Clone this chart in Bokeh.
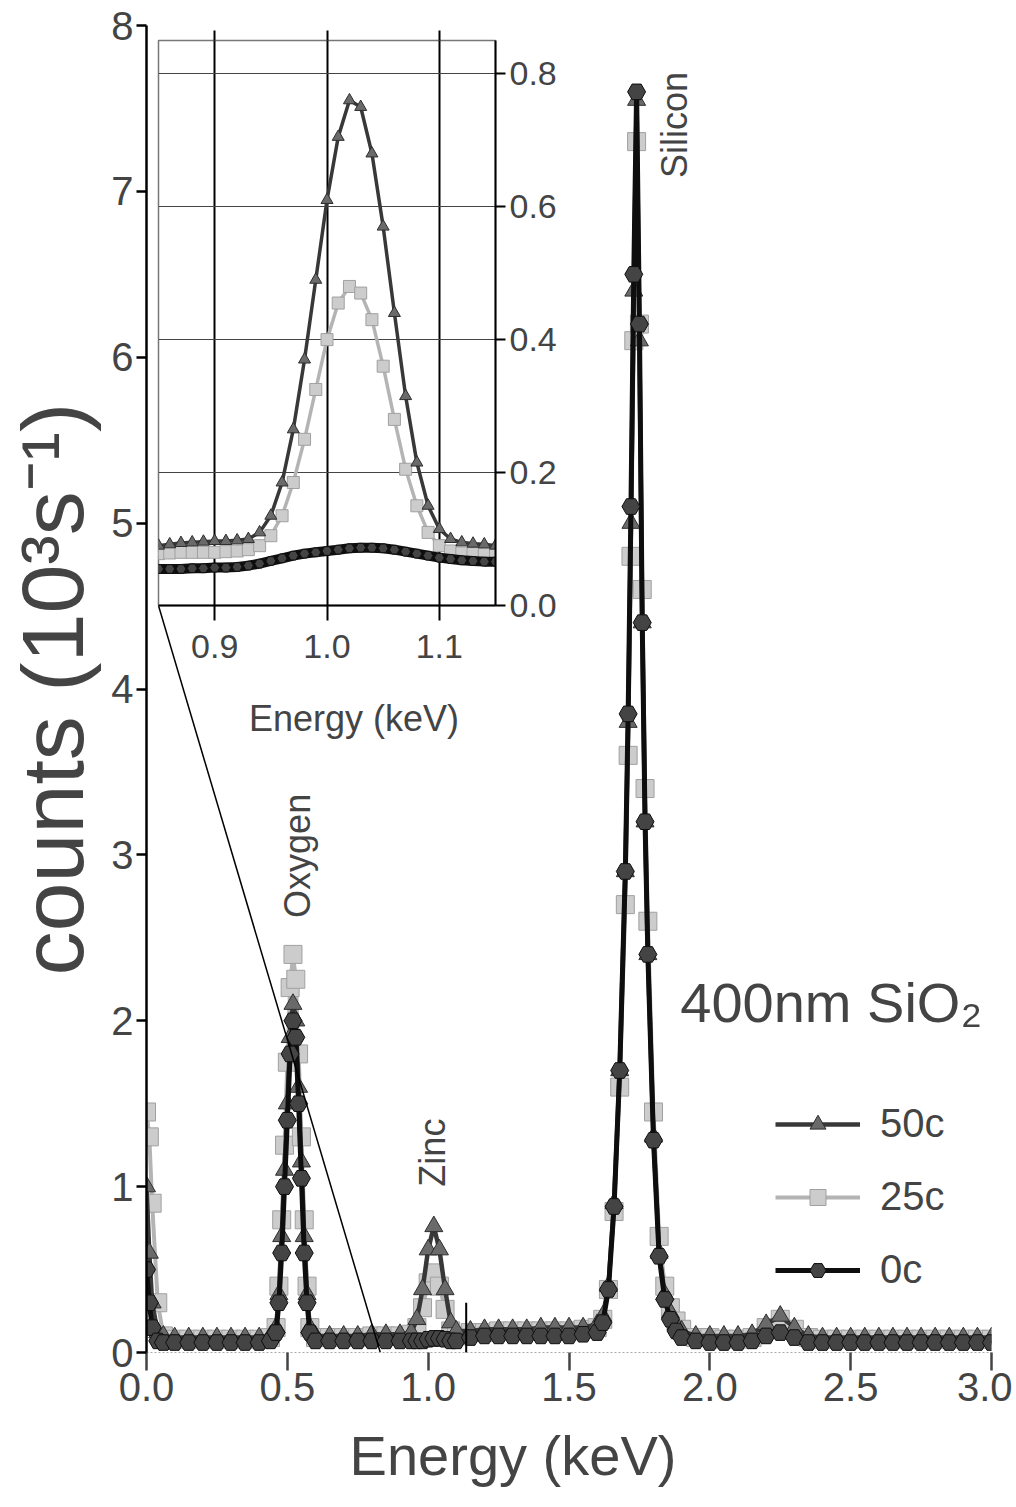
from bokeh.plotting import figure
from bokeh.models import Range1d, FixedTicker, Legend, LegendItem, Label, NumeralTickFormatter, LinearAxis
from bokeh.embed import file_html
from bokeh.resources import INLINE

# ---------------- data ----------------
energy = [0.00, 0.01, 0.02, 0.04, 0.06, 0.10, 0.15, 0.20, 0.25, 0.30, 0.35, 0.40, 0.44,
          0.46, 0.47, 0.48, 0.49, 0.50, 0.51, 0.52, 0.53, 0.54, 0.55, 0.56, 0.57, 0.58, 0.60,
          0.65, 0.70, 0.75, 0.80, 0.85, 0.90, 0.94,
          0.96, 0.98, 1.00, 1.02, 1.04, 1.06, 1.08, 1.10,
          1.15, 1.20, 1.25, 1.30, 1.35, 1.40, 1.45, 1.50, 1.55, 1.60,
          1.62, 1.64, 1.66, 1.68, 1.70, 1.71, 1.72, 1.73, 1.74, 1.75, 1.76, 1.77, 1.78, 1.80,
          1.82, 1.84, 1.86, 1.88, 1.90,
          1.95, 2.00, 2.05, 2.10, 2.15, 2.20, 2.25, 2.30, 2.35, 2.40, 2.45, 2.50, 2.55, 2.60,
          2.65, 2.70, 2.75, 2.80, 2.85, 2.90, 2.95, 3.00]

counts_50c = [1.00, 0.60, 0.30, 0.12, 0.10, 0.09, 0.09, 0.09, 0.09, 0.09, 0.09, 0.09, 0.10,
              0.15, 0.35, 0.70, 1.10, 1.50, 1.90, 2.10, 2.00, 1.60, 1.15, 0.70, 0.35, 0.15, 0.10,
              0.10, 0.10, 0.10, 0.11, 0.11, 0.11, 0.12,
              0.20, 0.38, 0.62, 0.76, 0.62, 0.38, 0.18, 0.13,
              0.13, 0.14, 0.14, 0.14, 0.14, 0.15, 0.15, 0.15, 0.15, 0.17,
              0.22, 0.40, 0.90, 1.70, 2.90, 3.80, 5.00, 6.40, 7.55, 6.10, 4.40, 3.20, 2.40, 1.30,
              0.60, 0.35, 0.24, 0.17, 0.13,
              0.10, 0.10, 0.10, 0.10, 0.11, 0.17, 0.22, 0.15, 0.10, 0.09, 0.09, 0.09, 0.09, 0.09,
              0.09, 0.09, 0.09, 0.09, 0.09, 0.09, 0.09, 0.09]

counts_25c = [1.45, 1.30, 0.90, 0.30, 0.10, 0.08, 0.08, 0.08, 0.08, 0.08, 0.08, 0.08, 0.09,
              0.15, 0.40, 0.80, 1.25, 1.75, 2.20, 2.40, 2.25, 1.80, 1.30, 0.80, 0.40, 0.15, 0.09,
              0.09, 0.09, 0.09, 0.10, 0.10, 0.10, 0.11,
              0.15, 0.27, 0.42, 0.48, 0.40, 0.26, 0.13, 0.10,
              0.12, 0.12, 0.13, 0.13, 0.13, 0.13, 0.13, 0.13, 0.14, 0.15,
              0.20, 0.38, 0.85, 1.60, 2.70, 3.60, 4.80, 6.10, 7.30, 6.20, 4.60, 3.40, 2.60, 1.45,
              0.70, 0.40, 0.27, 0.19, 0.14,
              0.09, 0.09, 0.08, 0.08, 0.09, 0.15, 0.20, 0.14, 0.09, 0.08, 0.08, 0.08, 0.08, 0.08,
              0.08, 0.08, 0.08, 0.08, 0.08, 0.08, 0.08, 0.08]

counts_0c = [0.50, 0.30, 0.15, 0.07, 0.06, 0.06, 0.06, 0.06, 0.06, 0.06, 0.06, 0.06, 0.07,
             0.12, 0.30, 0.60, 1.00, 1.40, 1.80, 2.00, 1.90, 1.50, 1.05, 0.60, 0.30, 0.12, 0.07,
             0.07, 0.07, 0.07, 0.07, 0.07, 0.07, 0.07,
             0.07, 0.07, 0.08, 0.085, 0.085, 0.08, 0.07, 0.07,
             0.09, 0.10, 0.10, 0.10, 0.10, 0.10, 0.10, 0.10, 0.11, 0.12,
             0.18, 0.38, 0.88, 1.70, 2.90, 3.85, 5.10, 6.50, 7.60, 6.20, 4.40, 3.20, 2.40, 1.28,
             0.58, 0.32, 0.20, 0.13, 0.09,
             0.07, 0.06, 0.06, 0.06, 0.07, 0.10, 0.12, 0.09, 0.06, 0.06, 0.06, 0.06, 0.06, 0.06,
             0.06, 0.06, 0.06, 0.06, 0.06, 0.06, 0.06, 0.06]

# inset (zinc region, 10^3 s^-1)
inset_energy = [0.85, 0.86, 0.87, 0.88, 0.89, 0.90, 0.91, 0.92, 0.93, 0.94, 0.95, 0.96, 0.97,
                0.98, 0.99, 1.00, 1.01, 1.02, 1.03, 1.04, 1.05, 1.06, 1.07, 1.08, 1.09, 1.10,
                1.11, 1.12, 1.13, 1.14, 1.15]
inset_50c = [0.090, 0.092, 0.094, 0.095, 0.096, 0.097, 0.097, 0.098, 0.100, 0.110, 0.135, 0.185,
             0.265, 0.370, 0.490, 0.610, 0.705, 0.760, 0.750, 0.680, 0.570, 0.440, 0.315, 0.215,
             0.150, 0.115, 0.100, 0.095, 0.093, 0.092, 0.090]
inset_25c = [0.078, 0.079, 0.080, 0.080, 0.080, 0.080, 0.081, 0.082, 0.084, 0.090, 0.105, 0.135,
             0.185, 0.250, 0.325, 0.400, 0.455, 0.480, 0.470, 0.430, 0.360, 0.280, 0.205, 0.150,
             0.110, 0.090, 0.082, 0.079, 0.078, 0.077, 0.077]
inset_0c = [0.055, 0.055, 0.055, 0.056, 0.056, 0.057, 0.057, 0.058, 0.060, 0.063, 0.067, 0.071,
            0.075, 0.078, 0.080, 0.082, 0.084, 0.086, 0.087, 0.087, 0.086, 0.084, 0.081, 0.078,
            0.075, 0.072, 0.070, 0.068, 0.067, 0.066, 0.066]

x_ticks = [0.0, 0.5, 1.0, 1.5, 2.0, 2.5, 3.0]
y_ticks = [0, 1, 2, 3, 4, 5, 6, 7, 8]
inset_x_ticks = [0.9, 1.0, 1.1]
inset_y_ticks = [0.0, 0.2, 0.4, 0.6, 0.8]

# zoom indicator lines (main data coords)
zoom_line_x = [0.043, 0.83]
zoom_line_y = [4.50, 0.0]
zoom_tick_x = [1.135, 1.135]
zoom_tick_y = [-0.05, 0.30]

SANS = "Liberation Sans"

styles = {
    "50c": dict(line="#383838", marker="triangle", fill="#6a6a6a", edge="#2e2e2e", lw=4.5),
    "25c": dict(line="#b4b4b4", marker="square", fill="#cccccc", edge="#a0a0a0", lw=4),
    "0c": dict(line="#0e0e0e", marker="hex", fill="#444444", edge="#0e0e0e", lw=5),
}

# ---------------- main figure ----------------
p = figure(width=1012, height=1507, x_range=Range1d(0, 3), y_range=Range1d(0, 8),
           output_backend="svg", toolbar_location=None,
           min_border_left=146, min_border_right=21, min_border_top=25, min_border_bottom=155)
p.outline_line_color = None
p.grid.visible = False
p.background_fill_color = None
p.border_fill_color = "white"

main_series = {"50c": counts_50c, "25c": counts_25c, "0c": counts_0c}
rends = {}
for name in ["25c", "50c", "0c"]:
    st = styles[name]
    lr = p.line(energy, main_series[name], line_color=st["line"], line_width=st["lw"])
    sr = p.scatter(energy, main_series[name], marker=st["marker"], size=18,
                   fill_color=st["fill"], line_color=st["edge"], line_width=1)
    rends[name] = [lr, sr]

p.line(zoom_line_x, zoom_line_y, line_color="black", line_width=1.5)
p.line(zoom_tick_x, zoom_tick_y, line_color="black", line_width=2)

# axes
p.xaxis.ticker = FixedTicker(ticks=x_ticks)
p.xaxis.formatter = NumeralTickFormatter(format="0.0")
p.xaxis.axis_label = "Energy (keV)\u2003\u2003"
p.xaxis.axis_line_color = "#aaaaaa"
p.xaxis.axis_line_dash = "2 2"
p.xaxis.major_tick_out = 18
p.xaxis.major_tick_in = 0
p.xaxis.minor_tick_line_color = None
p.xaxis.major_tick_line_width = 2.5
p.xaxis.major_tick_line_color = "#444444"
p.xaxis.major_label_text_font = SANS
p.xaxis.major_label_text_font_size = "40px"
p.xaxis.major_label_standoff = 2
p.xaxis.axis_label_text_font = SANS
p.xaxis.axis_label_text_font_size = "56px"
p.xaxis.axis_label_text_font_style = "normal"
p.xaxis.axis_label_standoff = 20

p.yaxis.ticker = FixedTicker(ticks=y_ticks)
p.yaxis.axis_label = "counts (10³s⁻¹)"
p.yaxis.axis_line_width = 2.5
p.yaxis.major_tick_out = 10
p.yaxis.major_tick_in = 0
p.yaxis.major_tick_line_width = 2.5
p.yaxis.minor_tick_line_color = None
p.yaxis.major_label_text_font = SANS
p.yaxis.major_label_text_font_size = "40px"
p.yaxis.major_label_standoff = 3
p.yaxis.axis_label_text_font = SANS
p.yaxis.axis_label_text_font_size = "88px"
p.yaxis.axis_label_text_font_style = "normal"
p.yaxis.axis_label_standoff = 6

# peak labels
for txt, x, y in [("Oxygen", 0.535, 2.62), ("Zinc", 1.015, 1.00), ("Silicon", 1.875, 7.08)]:
    p.add_layout(Label(x=x, y=y, text=txt, angle=90, angle_units="deg",
                       text_font=SANS, text_font_size="36px",
                       text_align="left", text_baseline="middle"))
p.add_layout(Label(x=1.895, y=2.11, text="400nm SiO₂", text_font=SANS,
                   text_font_size="56px", text_align="left", text_baseline="alphabetic"))

legend = Legend(items=[LegendItem(label=n, renderers=rends[n]) for n in ["50c", "25c", "0c"]],
                location=(629, 60), glyph_width=85, glyph_height=40, spacing=28,
                label_standoff=20, padding=0, margin=0, border_line_color=None,
                background_fill_alpha=0, label_text_font=SANS, label_text_font_size="40px")
p.add_layout(legend)

# ---------------- inset ----------------
ins = figure(width=409, height=753, x_range=Range1d(0.85, 1.15),
             y_range=Range1d(0, 0.85), y_axis_location="right",
             output_backend="svg", toolbar_location=None,
             min_border_left=2, min_border_top=38, min_border_right=70, min_border_bottom=150)
ins.border_fill_color = None
ins.background_fill_color = "white"
ins.outline_line_color = "#777777"
ins.outline_line_width = 1.5

inset_series = {"50c": inset_50c, "25c": inset_25c, "0c": inset_0c}
for name in ["25c", "50c", "0c"]:
    st = styles[name]
    ins.line(inset_energy, inset_series[name], line_color=st["line"],
             line_width=10 if name == "0c" else 3.5)
    ins.scatter(inset_energy, inset_series[name], marker=st["marker"],
                size=10 if name == "0c" else 12,
                fill_color=st["fill"], line_color=st["edge"], line_width=1)

xa = ins.below[0]
ya = ins.right[0]
xa.ticker = FixedTicker(ticks=inset_x_ticks)
ins.xgrid.ticker = FixedTicker(ticks=inset_x_ticks)
ya.ticker = FixedTicker(ticks=inset_y_ticks)
ins.ygrid.ticker = FixedTicker(ticks=inset_y_ticks)
xa.formatter = NumeralTickFormatter(format="0.0")
ya.formatter = NumeralTickFormatter(format="0.0")
ins.xgrid.grid_line_color = "black"
ins.xgrid.grid_line_width = 2
ins.ygrid.grid_line_color = "#444444"
ins.ygrid.grid_line_width = 1.2
for ax in (xa, ya):
    ax.axis_line_width = 2
    ax.major_tick_in = 0
    ax.major_tick_line_width = 2
    ax.minor_tick_line_color = None
    ax.major_label_text_font = SANS
    ax.major_label_text_font_size = "34px"
xa.major_tick_out = 15
xa.major_label_standoff = 14
ya.major_tick_out = 10
ya.major_label_standoff = 4
xa.axis_label = "\u2003\u2002Energy (keV)"
xa.axis_label_text_font = SANS
xa.axis_label_text_font_size = "36px"
xa.axis_label_text_font_style = "normal"
xa.axis_label_standoff = 37

# tick marks above the inset frame (no labels)
top_axis = LinearAxis(ticker=FixedTicker(ticks=inset_x_ticks), major_label_text_color=None,
                      major_tick_out=10, major_tick_in=0, major_tick_line_width=2,
                      minor_tick_line_color=None, axis_line_color=None)
ins.add_layout(top_axis, "above")

# overlay the inset on the main figure (separate root, absolutely positioned)
ins.styles = {"position": "absolute", "left": "156px", "top": "2px", "z-index": "2"}

open("out.html", "w").write(file_html([p, ins], INLINE))
